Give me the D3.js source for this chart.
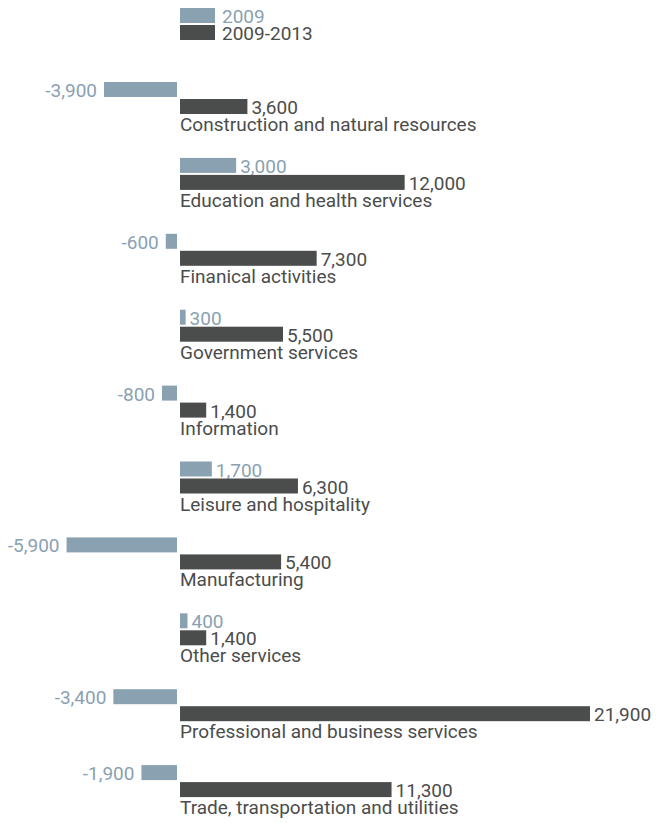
<!DOCTYPE html>
<html>
<head>
<meta charset="utf-8">
<script src="https://cdn.jsdelivr.net/npm/d3@7"></script>
<style>
  html, body { margin: 0; padding: 0; background: #fff; }
  svg { display: block; }
  text { font-family: Roboto, "Liberation Sans", sans-serif; }
</style>
</head>
<body>
<div id="chart"></div>
<script>
// ---- data ----
const categories = [
  "Construction and natural resources",
  "Education and health services",
  "Finanical activities",
  "Government services",
  "Information",
  "Leisure and hospitality",
  "Manufacturing",
  "Other services",
  "Professional and business services",
  "Trade, transportation and utilities"
];
const values2009 = [-3900, 3000, -600, 300, -800, 1700, -5900, 400, -3400, -1900];
const values20092013 = [3600, 12000, 7300, 5500, 1400, 6300, 5400, 1400, 21900, 11300];
const seriesNames = ["2009", "2009-2013"];

// ---- style ----
const W = 658, H = 823;
const colorLight = "#8aa1b2";
const colorDark = "#4b4d4c";
const zeroX = 180;      // start of positive bars
const negGap = 3;       // negative bars end a few px left of zero
const barH = 15;
const fontSize = 19;

const svg = d3.select("#chart").append("svg")
  .attr("width", W).attr("height", H);

const len = d3.scaleLinear().domain([0, 21900]).range([0, 410]);

const step = 75.9;
const y = d3.scaleBand()
  .domain(categories)
  .range([82, 82 + step * categories.length])
  .paddingInner(0).paddingOuter(0);

const fmtAbs = d3.format(",");
const fmt = v => (v < 0 ? "-" : "") + fmtAbs(Math.abs(v));

// ---- legend ----
const legend = svg.append("g");
seriesNames.forEach((name, i) => {
  const ly = 8 + i * 17;
  legend.append("rect")
    .attr("x", zeroX).attr("y", ly)
    .attr("width", 35).attr("height", barH)
    .attr("fill", i === 0 ? colorLight : colorDark);
  legend.append("text")
    .attr("x", zeroX + 42).attr("y", ly + barH)
    .attr("font-size", fontSize)
    .attr("fill", i === 0 ? colorLight : colorDark)
    .text(name);
});

// ---- rows ----
const rows = svg.append("g").selectAll("g")
  .data(categories.map((c, i) => ({ c, a: values2009[i], b: values20092013[i] })))
  .join("g")
  .attr("transform", d => `translate(0,${y(d.c)})`);

// 2009 bars
rows.append("rect")
  .attr("x", d => d.a >= 0 ? zeroX : zeroX - negGap - len(-d.a))
  .attr("y", 0)
  .attr("width", d => len(Math.abs(d.a)))
  .attr("height", barH)
  .attr("fill", colorLight);

rows.append("text")
  .attr("x", d => d.a >= 0 ? zeroX + len(d.a) + 4 : zeroX - negGap - len(-d.a) - 7)
  .attr("y", barH)
  .attr("text-anchor", d => d.a >= 0 ? "start" : "end")
  .attr("font-size", fontSize)
  .attr("fill", colorLight)
  .text(d => fmt(d.a));

// 2009-2013 bars
rows.append("rect")
  .attr("x", zeroX)
  .attr("y", 17)
  .attr("width", d => len(d.b))
  .attr("height", barH)
  .attr("fill", colorDark);

rows.append("text")
  .attr("x", d => zeroX + len(d.b) + 4)
  .attr("y", 17 + barH)
  .attr("font-size", fontSize)
  .attr("fill", colorDark)
  .text(d => fmt(d.b));

// category labels
rows.append("text")
  .attr("x", zeroX)
  .attr("y", 49)
  .attr("font-size", fontSize)
  .attr("fill", colorDark)
  .text(d => d.c);
</script>
</body>
</html>
